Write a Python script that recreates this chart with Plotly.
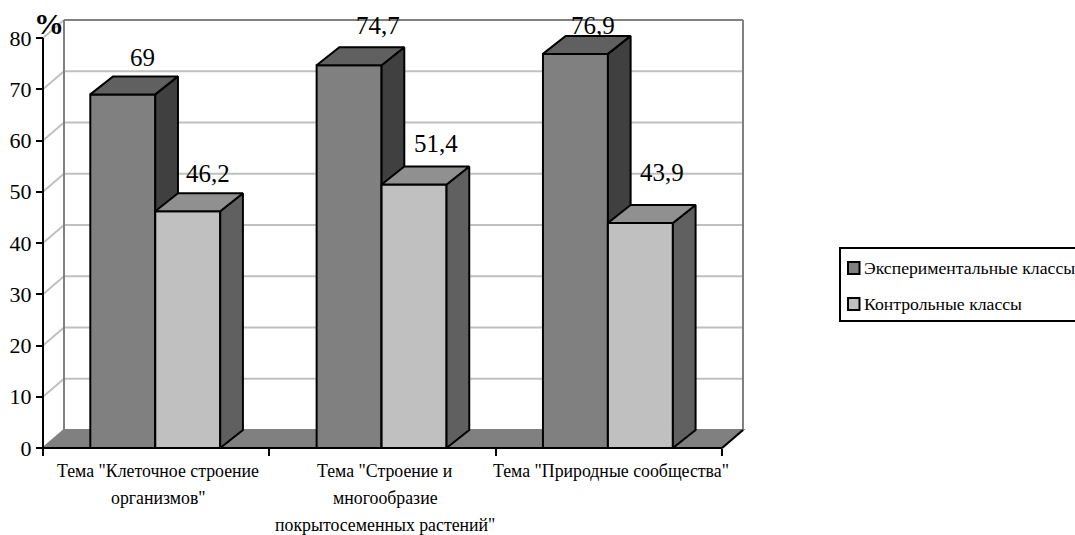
import plotly.graph_objects as go

# Chart values
category_lines = [
    ['Тема "Клеточное строение', 'организмов"'],
    ['Тема "Строение и', 'многообразие', 'покрытосеменных растений"'],
    ['Тема "Природные сообщества"'],
]
series_names = ["Экспериментальные классы", "Контрольные классы"]
experimental = [69, 74.7, 76.9]
control = [46.2, 51.4, 43.9]
value_ticks = [0, 10, 20, 30, 40, 50, 60, 70, 80]

# Scale of the full page in pixels per axis unit
W, H = 1075, 535
X0_PX, Y0_PX = 43, 448
X_UNIT, Y_UNIT = 226.33, 5.125
DX, DY = 21 / X_UNIT, 18 / Y_UNIT      # oblique depth of the 3D box
BAR_DX = 22.7 / X_UNIT                 # columns reach slightly deeper than the floor
BAR_W = 0.287
N = len(experimental)
XR = [-X0_PX / X_UNIT, (W - X0_PX) / X_UNIT]
YR = [(Y0_PX - H) / Y_UNIT, Y0_PX / Y_UNIT]

GREY_DARK, GREY_LINE, GREY_GRID = "#808080", "#808080", "#c0c0c0"
SERIF = "Liberation Serif"


def px(x):
    return x / W


def py(y):
    return 1 - y / H


def poly_trace(xs, ys, fill, xa, ya):
    return go.Scatter(x=xs, y=ys, mode="lines", fill="toself", fillcolor=fill,
                      line=dict(color="black", width=2), hoverinfo="skip",
                      showlegend=False, xaxis=xa, yaxis=ya)


def box_faces(values, left_offset, side_color, top_color, xa, ya):
    """Side and top faces of the columns, derived from their values."""
    sx, sy, tx, ty = [], [], [], []
    for i, v in enumerate(values):
        x0 = i + 0.5 + left_offset
        x1 = x0 + BAR_W
        sx += [x1, x1 + BAR_DX, x1 + BAR_DX, x1, x1, None]
        sy += [0, DY, v + DY, v, 0, None]
        tx += [x0, x0 + BAR_DX, x1 + BAR_DX, x1, x0, None]
        ty += [v, v + DY, v + DY, v, v, None]
    return [poly_trace(sx, sy, side_color, xa, ya), poly_trace(tx, ty, top_color, xa, ya)]


centers = [i + 0.5 for i in range(N)]
OFF_A, OFF_B = -0.291, -0.004

fig = go.Figure()
fig.add_bar(x=centers, y=experimental, width=BAR_W, offset=OFF_A, name=series_names[0],
            marker=dict(color="#808080", line=dict(color="black", width=2)),
            showlegend=False, xaxis="x", yaxis="y")
for t in box_faces(experimental, OFF_A, "#404040", "#606060", "x", "y"):
    fig.add_trace(t)
fig.add_bar(x=centers, y=control, width=BAR_W, offset=OFF_B, name=series_names[1],
            marker=dict(color="#c0c0c0", line=dict(color="black", width=2)),
            showlegend=False, xaxis="x2", yaxis="y2")
for t in box_faces(control, OFF_B, "#606060", "#909090", "x2", "y2"):
    fig.add_trace(t)

shapes = []


def seg(x0, y0, x1, y1, color, width=2):
    shapes.append(dict(type="line", xref="x", yref="y", x0=x0, y0=y0, x1=x1, y1=y1,
                       layer="below", line=dict(color=color, width=width)))


# Grid lines on the back and left walls
for v in value_ticks[1:-1]:
    seg(0, v, DX, v + DY, GREY_GRID)
    seg(DX, v + DY, N + DX, v + DY, GREY_GRID)
seg(0, value_ticks[-1], DX, value_ticks[-1] + DY, GREY_GRID)
seg(DX, value_ticks[-1] + DY, N + DX, value_ticks[-1] + DY, GREY_LINE)
seg(DX, DY, DX, value_ticks[-1] + DY, GREY_LINE)
seg(N + DX, DY, N + DX, value_ticks[-1] + DY, GREY_LINE)

# Floor of the box
shapes.append(dict(type="path", xref="x", yref="y", layer="below",
                   path=f"M0,0 L{N},0 L{N + DX},{DY} L{DX},{DY} Z",
                   fillcolor=GREY_DARK, line=dict(color=GREY_LINE, width=2)))
seg(N, 0, N + DX, DY, "black")

# Axis lines
seg(0, 0, 0, value_ticks[-1], "black")
seg(0, 0, N, 0, "black")

# Legend box
shapes.append(dict(type="rect", xref="paper", yref="paper", x0=px(840), x1=px(1090),
                   y0=py(321), y1=py(248), fillcolor="white", line=dict(color="black", width=2)))
for (top, color) in [(262, "#808080"), (298, "#c0c0c0")]:
    shapes.append(dict(type="rect", xref="paper", yref="paper", x0=px(848), x1=px(859.5),
                       y0=py(top + 12), y1=py(top), fillcolor=color,
                       line=dict(color="black", width=2)))

annotations = []


def note(x, y, text, size, xanchor="center", **kw):
    annotations.append(dict(x=x, y=y, text=text, showarrow=False, xanchor=xanchor, yanchor="middle",
                            font=dict(family=SERIF, size=size, color="black"), **kw))


# Category labels, one annotation per line for the wide line spacing
LINE_Y_PX = [471, 498, 524.5]
LABEL_SHIFT_X = [2, 2.5, 2.5]
for i, lines in enumerate(category_lines):
    for j, line in enumerate(lines):
        note(i + 0.5, (Y0_PX - LINE_Y_PX[j]) / Y_UNIT, line, 17.8, xshift=LABEL_SHIFT_X[i])

# Value labels, nudged off the back edge of each column top
label_shift_a = [(9, 19), (18, 22), (7, 10)]
label_shift_b = [(10, 20), (11, 23), (11, 33)]


def fmt(v):
    return f"{v:g}".replace(".", ",")


for values, offset, shifts in [(experimental, OFF_A, label_shift_a), (control, OFF_B, label_shift_b)]:
    for i, v in enumerate(values):
        note(i + 0.5 + offset + BAR_W / 2 + DX / 2, v + DY, fmt(v), 25,
             xshift=shifts[i][0], yshift=shifts[i][1])

# Axis unit sign
annotations.append(dict(xref="paper", yref="paper", x=px(49), y=py(24), text="<b>%</b>", showarrow=False,
                        xanchor="center", yanchor="middle",
                        font=dict(family=SERIF, size=30, color="black")))

# Legend entries
for name, y in zip(series_names, [268, 304]):
    annotations.append(dict(xref="paper", yref="paper", x=px(862), y=py(y), text=name, showarrow=False,
                            xanchor="left", yanchor="middle",
                            font=dict(family=SERIF, size=17.7, color="black")))

fig.update_layout(
    width=W, height=H, margin=dict(l=0, r=0, t=0, b=0, autoexpand=False),
    paper_bgcolor="white", plot_bgcolor="rgba(0,0,0,0)", showlegend=False,
    barmode="overlay", font=dict(family=SERIF, color="black"),
    shapes=shapes, annotations=annotations,
    xaxis=dict(range=XR, domain=[0, 1], anchor="free", position=1 - Y0_PX / H,
               tickmode="array", tickvals=list(range(N + 1)), ticktext=[""] * (N + 1),
               ticks="outside", ticklen=7, tickwidth=2, tickcolor="black",
               showgrid=False, zeroline=False, showline=False),
    yaxis=dict(range=YR, domain=[0, 1], anchor="free", position=X0_PX / W,
               tickmode="array", tickvals=value_ticks, ticks="outside", ticklen=7,
               tickwidth=2, tickcolor="black", tickfont=dict(family=SERIF, size=22, color="black"),
               showgrid=False, zeroline=False, showline=False),
    xaxis2=dict(range=XR, overlaying="x", anchor="y2", visible=False),
    yaxis2=dict(range=YR, overlaying="y", anchor="x2", visible=False),
)

fig.write_html("out.html", config=dict(displayModeBar=False))
